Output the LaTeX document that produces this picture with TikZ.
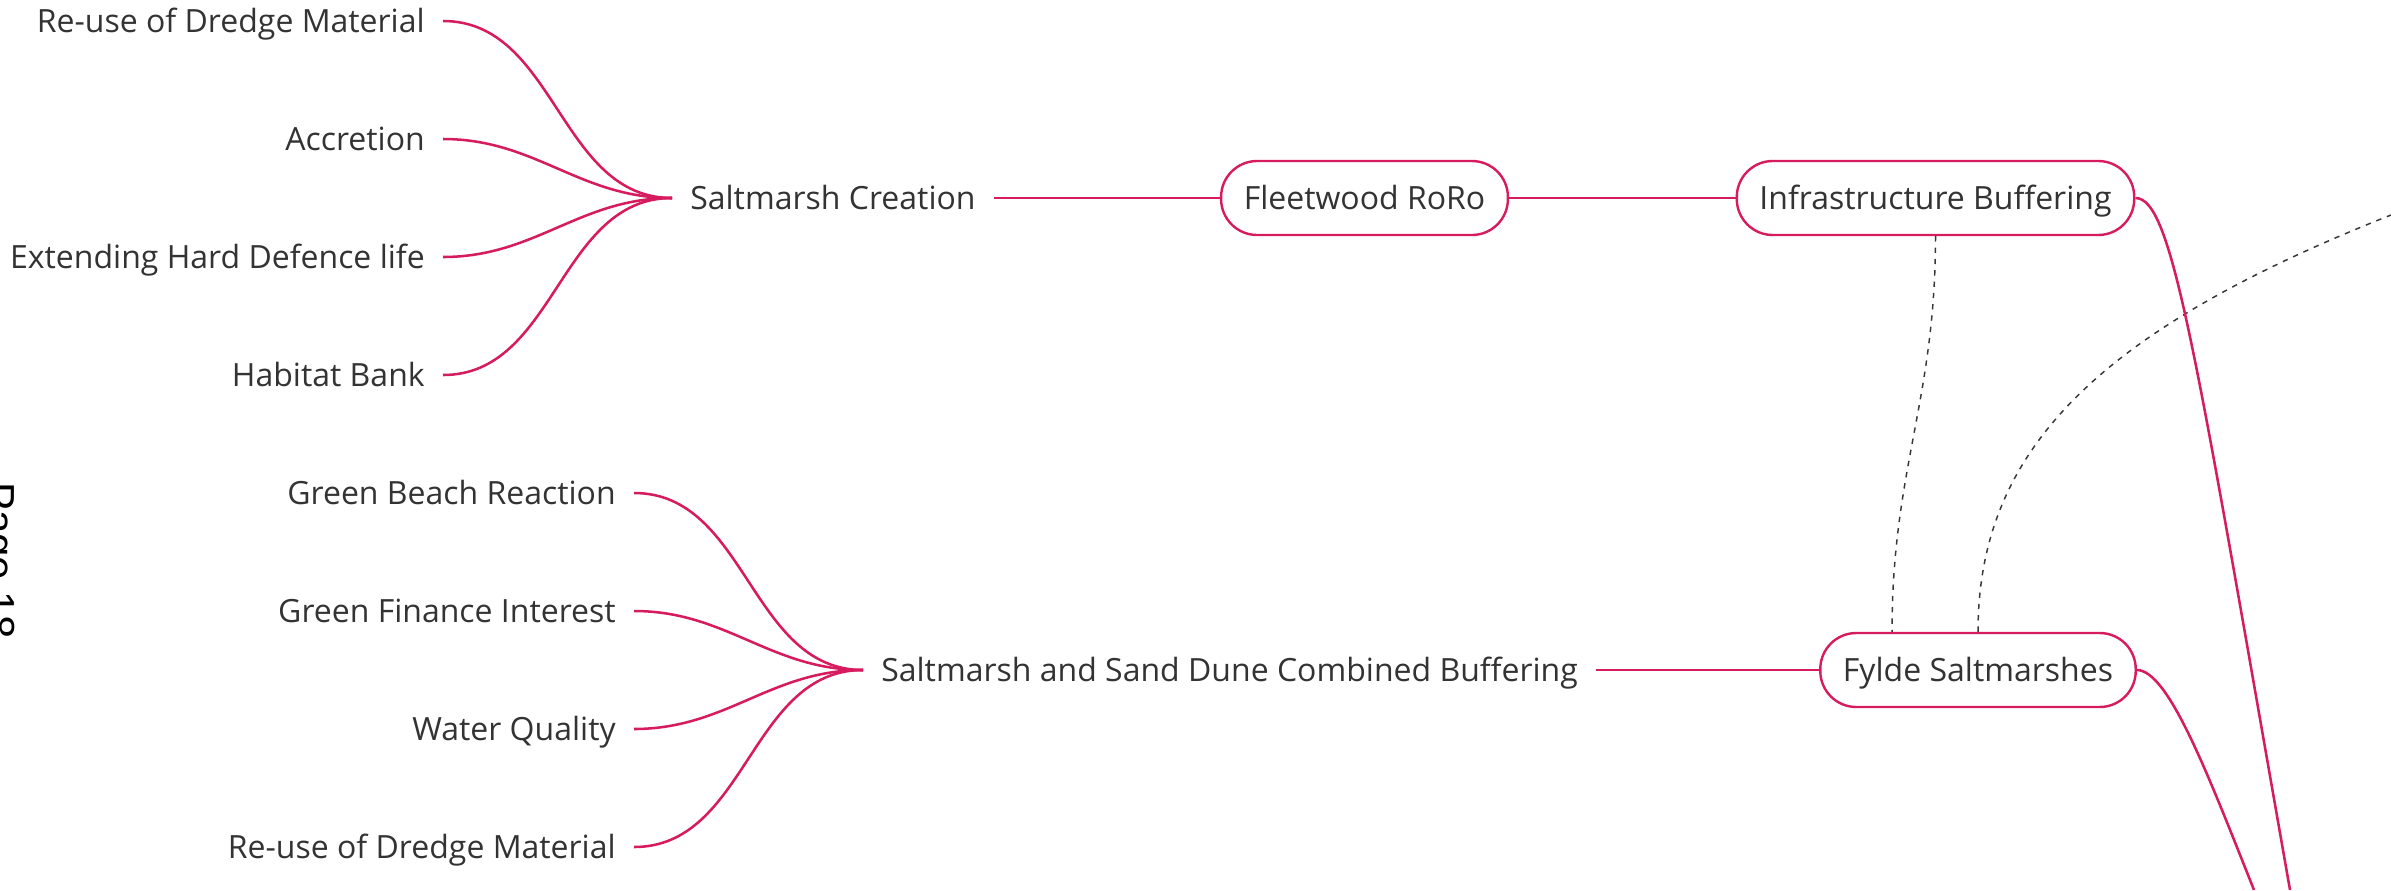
\documentclass[tikz,border=0pt]{standalone}
\usepackage{fontspec}
\usepackage{xcolor}
\setmainfont{Open Sans}
\newfontfamily\pagefont{Liberation Sans}
\usetikzlibrary{calc}

\definecolor{mapred}{RGB}{214,28,94}
\definecolor{maptext}{RGB}{51,51,51}
\definecolor{mapdash}{RGB}{55,55,55}

\tikzset{
  topic/.style={text=maptext, font=\fontsize{24}{29}\selectfont, inner xsep=13.5pt, inner ysep=0pt, text height=17pt, text depth=0pt},
  leaf/.style={topic, anchor=east},
  hub/.style={topic, anchor=west},
  pill/.style={topic, draw=mapred, line width=1.8pt, fill=white, rounded corners=27pt, minimum height=55.5pt, inner xsep=17pt},
  branch/.style={draw=mapred, line width=1.9pt},
  relation/.style={draw=mapdash, line width=1.1pt, dash pattern=on 4pt off 4.5pt},
  pagenum/.style={anchor=base west, rotate=-90, inner sep=0pt, text=black, font=\pagefont\fontsize{31.5}{36}\selectfont},
}

\begin{document}
\begin{tikzpicture}[x=0.75pt,y=0.75pt,yscale=-1,xscale=1]
    \useasboundingbox (0,0) rectangle (2391,890);

    % Text Node
    \node[pagenum] (pg) at (-14,482) {Page 18};

    % Text Node
    \node[leaf] (l1) at (443,21) {Re-use of Dredge Material};
    % Text Node
    \node[leaf] (l2) at (443,139) {Accretion};
    % Text Node
    \node[leaf] (l3) at (443,257) {Extending Hard Defence life};
    % Text Node
    \node[leaf] (l4) at (443,375) {Habitat Bank};
    % Text Node
    \node[hub] (sc) at (672,198) {Saltmarsh Creation};
    %Shape: Rounded Rect
    \node[pill] (fw) at (1364.5,198) {Fleetwood RoRo};
    %Shape: Rounded Rect
    \node[pill] (ib) at (1935.5,198) {Infrastructure Buffering};

    % Text Node
    \node[leaf] (g1) at (634,493) {Green Beach Reaction};
    % Text Node
    \node[leaf] (g2) at (634,611) {Green Finance Interest};
    % Text Node
    \node[leaf] (g3) at (634,729) {Water Quality};
    % Text Node
    \node[leaf] (g4) at (634,847) {Re-use of Dredge Material};
    % Text Node
    \node[hub] (sd) at (863,670) {Saltmarsh and Sand Dune Combined Buffering};
    %Shape: Rounded Rect
    \node[pill] (fy) at (1978,670) {Fylde Saltmarshes};

    \coordinate (ibOut) at (2290,890);
    \coordinate (fyOut) at (2254,890);
    \coordinate (fyLink) at (2391,215);

    %Curve Lines
    \foreach \leafnode in {l1,l2,l3,l4}
        \draw[branch] (\leafnode.east) to[out=0,in=180] (sc.west);
    %Curve Lines
    \foreach \leafnode in {g1,g2,g3,g4}
        \draw[branch] (\leafnode.east) to[out=0,in=180] (sd.west);

    %Straight Lines
    \draw[branch] (sc) -- (fw);
    \draw[branch] (fw) -- (ib);
    \draw[branch] (sd) -- (fy);

    %Dashed Curves
    \draw[relation] (ib.south) .. controls +(0,165) and +(0,-163) .. ($(fy.north)+(-86,0)$);
    \draw[relation] (fy.north) .. controls +(0,-183) and +(-291,115) .. (fyLink);

    %Curve Lines
    \draw[branch] (ib.east) .. controls +(37,0) and +(-95,-540) .. (ibOut);
    \draw[branch] (fy.east) .. controls +(32,0) and +(-44,-110) .. (fyOut);

\end{tikzpicture}
\end{document}
